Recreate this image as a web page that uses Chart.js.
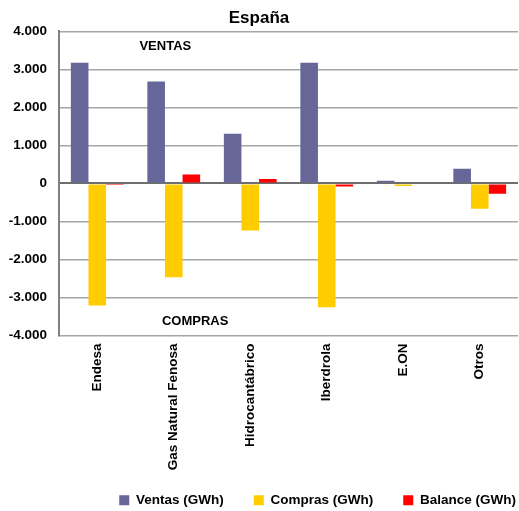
<!DOCTYPE html>
<html>
<head>
<meta charset="utf-8">
<script src="https://cdn.jsdelivr.net/npm/chart.js@4"></script>
<style>
  html, body { margin: 0; padding: 0; background: #fff; }
  #wrap { width: 519px; height: 511px; }
</style>
</head>
<body>
<div id="wrap"><canvas id="myChart" width="519" height="511"></canvas></div>
<script>
const companies = ['Endesa', 'Gas Natural Fenosa', 'Hidrocantábrico', 'Iberdrola', 'E.ON', 'Otros'];
const ventas = [3175, 2685, 1305, 3175, 70, 385];
const compras = [-3210, -2465, -1235, -3255, -70, -665];
const balance = [-15, 235, 115, -80, 0, -270];
const yTicks = [4000, 3000, 2000, 1000, 0, -1000, -2000, -3000, -4000];

// texto "VENTAS" / "COMPRAS" dentro del área
const notes = [
  { text: 'VENTAS', x: 0.89, y: 3600 },
  { text: 'COMPRAS', x: 1.28, y: -3630 }
];

const fmt = v => v === 0 ? '0' : (v < 0 ? '-' : '') + Math.abs(v).toString().replace(/\B(?=(\d{3})+(?!\d))/g, '.');

const notesPlugin = {
  id: 'notes',
  afterLayout(chart) {
    // la leyenda va algo desplazada a la derecha
    chart.legend.left += 28;
    chart.legend.right += 28;
  },
  afterDatasetsDraw(chart) {
    const ctx = chart.ctx;
    ctx.save();
    ctx.font = 'bold 13px "Liberation Sans", Arial, sans-serif';
    ctx.fillStyle = '#000';
    ctx.textAlign = 'center';
    ctx.textBaseline = 'middle';
    notes.forEach(n => {
      ctx.fillText(n.text, chart.scales.x.getPixelForValue(n.x), chart.scales.y.getPixelForValue(n.y));
    });
    ctx.restore();
  }
};

const font = { family: '"Liberation Sans", Arial, sans-serif', size: 13.5, weight: 'bold' };

new Chart(document.getElementById('myChart'), {
  type: 'bar',
  data: {
    labels: companies,
    datasets: [
      { label: 'Ventas (GWh)', data: ventas, backgroundColor: '#666699' },
      { label: 'Compras (GWh)', data: compras, backgroundColor: '#FFCC00' },
      { label: 'Balance (GWh)', data: balance, backgroundColor: '#FF0000' }
    ]
  },
  plugins: [notesPlugin],
  options: {
    responsive: false,
    animation: false,
    layout: { padding: { top: 8, right: 1, left: 0, bottom: -6 } },
    datasets: { bar: { categoryPercentage: 0.69, barPercentage: 1.0, borderWidth: 0 } },
    plugins: {
      title: {
        display: true,
        text: 'España',
        color: '#000',
        font: { family: font.family, size: 17, weight: 'bold' },
        padding: { top: 0, bottom: 3 }
      },
      legend: {
        position: 'bottom',
        align: 'end',
        labels: {
          color: '#000',
          font: font,
          boxWidth: 10,
          boxHeight: 10,
          padding: 30
        }
      },
      tooltip: { enabled: false }
    },
    scales: {
      x: {
        grid: { display: false, drawTicks: false },
        border: { display: false },
        ticks: { color: '#000', font: font, minRotation: 90, maxRotation: 90, padding: 8, autoSkip: false },
        afterFit(scale) {
          scale.height = 128;
          scale._computeLabelArea = () => null; // no recortar "Gas Natural Fenosa"
        }
      },
      y: {
        min: -4000,
        max: 4000,
        afterBuildTicks(scale) { scale.ticks = yTicks.map(v => ({ value: v })); },
        grid: {
          drawTicks: false,
          color: ctx => ctx.tick && ctx.tick.value === 0 ? '#6e6e6e' : '#a6a6a6',
          lineWidth: ctx => ctx.tick && ctx.tick.value === 0 ? 2 : 1.5
        },
        border: { display: true, color: '#808080', width: 2 },
        ticks: { color: '#000', font: font, padding: 12, callback: v => fmt(v) },
        afterFit(scale) { scale.width = 59; }
      }
    }
  }
});
</script>
</body>
</html>
